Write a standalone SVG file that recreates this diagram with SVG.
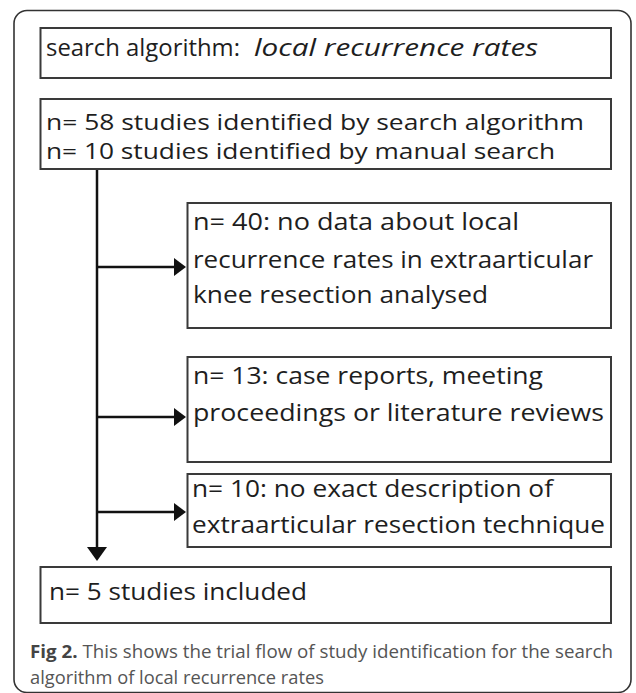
<svg xmlns="http://www.w3.org/2000/svg" width="636" height="693" viewBox="0 0 636 693">
<style>
.box{fill:#fff;stroke:#3a3a3a;stroke-width:2}
.t{font-family:"Open Sans","Noto Sans",sans-serif;font-size:23px;fill:#1e1e1e}
.t2{font-family:"Open Sans","Noto Sans",sans-serif;font-size:21.5px;fill:#1e1e1e}
.cap{font-family:"Open Sans","Noto Sans",sans-serif;font-size:18px;fill:#555}
.con{stroke:#111;stroke-width:2.5;fill:none}
.head{fill:#111}
</style>
<rect width="636" height="693" fill="#fff"/>
<rect x="14" y="10.5" width="617" height="682" rx="13" fill="none" stroke="#333" stroke-width="1.6"/>
<g id="connectors">
<line class="con" x1="97" y1="169" x2="97" y2="549"/>
<polygon class="head" points="87,547 107,547 97,561"/>
<line class="con" x1="97" y1="267" x2="176" y2="267"/>
<polygon class="head" points="174,258 186,267 174,276"/>
<line class="con" x1="97" y1="417" x2="176" y2="417"/>
<polygon class="head" points="174,408 186,417 174,426"/>
<line class="con" x1="97" y1="512" x2="176" y2="512"/>
<polygon class="head" points="174,503 186,512 174,521"/>
</g>
<g id="n1">
<rect class="box" x="40.5" y="28" width="570.5" height="50"/>
<text class="t" x="46" y="56" textLength="194" lengthAdjust="spacingAndGlyphs">search algorithm:</text>
<text class="t" x="254" y="56" font-style="italic" textLength="284" lengthAdjust="spacingAndGlyphs">local recurrence rates</text>
</g>
<g id="n2">
<rect class="box" x="40.5" y="99" width="570.5" height="70"/>
<text class="t2" x="46" y="130" textLength="538" lengthAdjust="spacingAndGlyphs">n= 58 studies identified by search algorithm</text>
<text class="t2" x="46" y="159" textLength="509" lengthAdjust="spacingAndGlyphs">n= 10 studies identified by manual search</text>
</g>
<g id="n3">
<rect class="box" x="187.5" y="203" width="423.5" height="125"/>
<text class="t" x="193" y="230" textLength="326" lengthAdjust="spacingAndGlyphs">n= 40:  no data about local</text>
<text class="t" x="193" y="268" textLength="400" lengthAdjust="spacingAndGlyphs">recurrence rates in extraarticular</text>
<text class="t" x="193" y="303" textLength="295" lengthAdjust="spacingAndGlyphs">knee resection analysed</text>
</g>
<g id="n4">
<rect class="box" x="187.5" y="357" width="423.5" height="105"/>
<text class="t" x="193" y="384" textLength="350" lengthAdjust="spacingAndGlyphs">n= 13: case reports, meeting</text>
<text class="t" x="193" y="421" textLength="411" lengthAdjust="spacingAndGlyphs">proceedings  or literature reviews</text>
</g>
<g id="n5">
<rect class="box" x="187.5" y="474" width="423.5" height="73"/>
<text class="t" x="192" y="497" textLength="361" lengthAdjust="spacingAndGlyphs">n= 10: no exact description of</text>
<text class="t" x="192" y="533" textLength="413" lengthAdjust="spacingAndGlyphs">extraarticular resection technique</text>
</g>
<g id="n6">
<rect class="box" x="40.5" y="567" width="570.5" height="56"/>
<text class="t" x="49" y="600" textLength="258" lengthAdjust="spacingAndGlyphs">n= 5 studies included</text>
</g>
<g id="caption">
<text class="cap" x="30" y="658" textLength="583" lengthAdjust="spacingAndGlyphs"><tspan font-weight="bold" fill="#444">Fig 2.</tspan> This shows the trial flow of study identification for the search</text>
<text class="cap" x="30" y="684" textLength="294" lengthAdjust="spacingAndGlyphs">algorithm of local recurrence rates</text>
</g>
</svg>
